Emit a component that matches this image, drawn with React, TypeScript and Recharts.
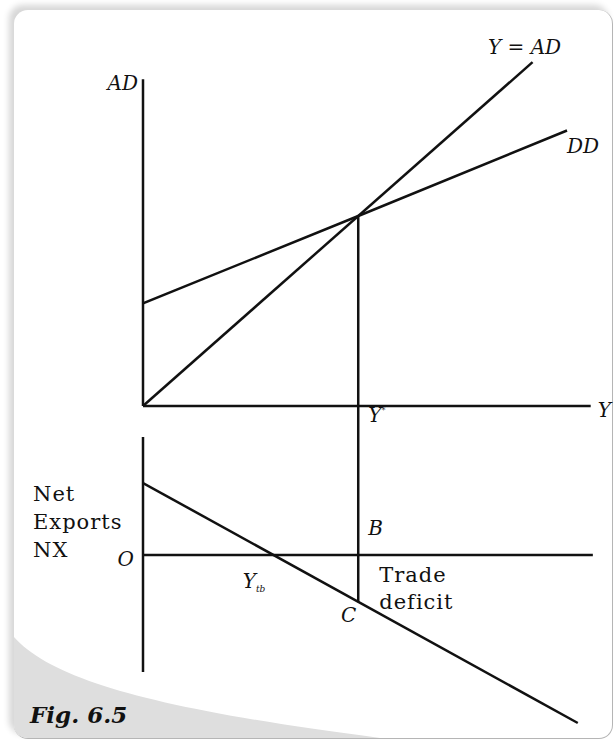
import React from 'react'
import { ComposedChart, Line, XAxis, YAxis, ReferenceLine, ReferenceDot } from 'recharts'

// Income Y on the shared horizontal axis (Y* = 100)
const Y_STAR = 100
const Y_TB = 60.3
const X_DOMAIN: [number, number] = [0, 210]

// Top panel (AD units): 45° line and domestic demand DD
const identityLine = [
  { x: 0, ad: 0 },
  { x: 181, ad: 181 },
]
const ddLine = [
  { x: 0, ad: 54 },
  { x: Y_STAR, ad: 100 },
  { x: 197, ad: 145 },
]
const AD_AXIS_TOP = 172
const Y_AXIS_END = 208
const AD_DOMAIN: [number, number] = [-170, 190]

// Bottom panel (NX units): net exports schedule
const nxLine = [
  { x: 0, nx: 36 },
  { x: 202, nx: -84 },
]
const NX_AXIS_TOP = 59
const NX_AXIS_BOTTOM = -58.5
const NX_AXIS_END = 209
const NX_AT_Y_STAR = -23.6
const NX_DOMAIN: [number, number] = [-87, 255]

// Drop line from the equilibrium down to point C (drawn in AD units)
const dropLine = [
  { x: Y_STAR, ad: 100 },
  { x: Y_STAR, ad: -103.3 },
]

const INK = '#111'
const STROKE = 2.5
const SERIF = '"DejaVu Serif", "Liberation Serif", serif'

// label renderer anchored on a reference dot, offset in pixels
const tag =
  (
    content: React.ReactNode,
    dx: number,
    dy: number,
    anchor: 'start' | 'middle' | 'end' = 'start',
    italic = true,
    size = 20
  ) =>
  (p: any) => {
    const vb = p?.viewBox ?? {}
    const cx = (vb.x ?? 0) + (vb.width ?? 0) / 2
    const cy = (vb.y ?? 0) + (vb.height ?? 0) / 2
    return (
      <text
        x={cx + dx}
        y={cy + dy}
        textAnchor={anchor}
        fontFamily={SERIF}
        fontStyle={italic ? 'italic' : 'normal'}
        fontSize={size}
        fill={INK}
      >
        {content}
      </text>
    )
  }

const stackTag =
  (lines: string[], dx: number, dy: number, lead: number, size = 21) =>
  (p: any) => {
    const vb = p?.viewBox ?? {}
    const cx = (vb.x ?? 0) + (vb.width ?? 0) / 2
    const cy = (vb.y ?? 0) + (vb.height ?? 0) / 2
    return (
      <text x={cx + dx} y={cy + dy} fontFamily={SERIF} fontSize={size} fill={INK} letterSpacing={1}>
        {lines.map((l, i) => (
          <tspan key={l} x={cx + dx} dy={i === 0 ? 0 : lead}>
            {l}
          </tspan>
        ))}
      </text>
    )
  }

const seg = { stroke: INK, strokeWidth: STROKE, ifOverflow: 'visible' as const }
const dotBase = { r: 0, fill: 'none', stroke: 'none', ifOverflow: 'visible' as const }

export default function App() {
  return (
    <div style={{ position: 'absolute', left: 0, top: 0, width: 616, height: 742, background: '#fff' }}>
      {/* card with shaded corner */}
      <div
        style={{
          position: 'absolute',
          left: 14,
          top: 10,
          width: 598,
          height: 728,
          borderRadius: 14,
          background: '#fff',
          borderRight: '1px solid #b5b5b5',
          borderBottom: '1px solid #b5b5b5',
          boxShadow: '-5px -5px 6px rgba(0,0,0,0.16)',
          overflow: 'hidden',
        }}
      >
        <svg width={598} height={728} style={{ position: 'absolute', left: 0, top: 0 }}>
          <path d="M0,627 C40,672 150,700 366,728 L0,728 Z" fill="#dedede" />
        </svg>
        <div
          style={{
            position: 'absolute',
            left: 16,
            top: 693,
            fontFamily: SERIF,
            fontWeight: 'bold',
            fontStyle: 'italic',
            fontSize: 23,
            lineHeight: '23px',
            color: '#111',
          }}
        >
          Fig. 6.5
        </div>
      </div>

      <div style={{ position: 'absolute', left: 0, top: 0 }}>
        <ComposedChart width={616} height={742} margin={{ top: 45, right: 21, bottom: 13, left: 143 }}>
          <XAxis type="number" dataKey="x" domain={X_DOMAIN} allowDataOverflow hide />
          <YAxis yAxisId="ad" type="number" domain={AD_DOMAIN} allowDataOverflow hide />
          <YAxis yAxisId="nx" type="number" domain={NX_DOMAIN} allowDataOverflow hide />

          {/* top panel axes */}
          <ReferenceLine yAxisId="ad" segment={[{ x: 0, y: 0 }, { x: 0, y: AD_AXIS_TOP }]} {...seg} />
          <ReferenceLine yAxisId="ad" segment={[{ x: 0, y: 0 }, { x: Y_AXIS_END, y: 0 }]} {...seg} />

          {/* bottom panel axes */}
          <ReferenceLine yAxisId="nx" segment={[{ x: 0, y: NX_AXIS_BOTTOM }, { x: 0, y: NX_AXIS_TOP }]} {...seg} />
          <ReferenceLine yAxisId="nx" segment={[{ x: 0, y: 0 }, { x: NX_AXIS_END, y: 0 }]} {...seg} />

          <Line data={identityLine} dataKey="ad" yAxisId="ad" type="linear" stroke={INK} strokeWidth={STROKE} dot={false} isAnimationActive={false} />
          <Line data={ddLine} dataKey="ad" yAxisId="ad" type="linear" stroke={INK} strokeWidth={STROKE} dot={false} isAnimationActive={false} />
          <Line data={dropLine} dataKey="ad" yAxisId="ad" type="linear" stroke={INK} strokeWidth={STROKE} dot={false} isAnimationActive={false} />
          <Line data={nxLine} dataKey="nx" yAxisId="nx" type="linear" stroke={INK} strokeWidth={STROKE} dot={false} isAnimationActive={false} />

          {/* top panel labels */}
          <ReferenceDot yAxisId="ad" x={0} y={AD_AXIS_TOP} {...dotBase} label={tag('AD', -5, 11, 'end')} />
          <ReferenceDot yAxisId="ad" x={identityLine[1].x} y={identityLine[1].ad} {...dotBase} label={tag('Y = AD', -8, -8, 'middle')} />
          <ReferenceDot yAxisId="ad" x={ddLine[2].x} y={ddLine[2].ad} {...dotBase} label={tag('DD', 0, 22)} />
          <ReferenceDot yAxisId="ad" x={Y_AXIS_END} y={0} {...dotBase} label={tag('Y', 7, 11)} />
          <ReferenceDot
            yAxisId="ad"
            x={Y_STAR}
            y={0}
            {...dotBase}
            label={tag(
              <>
                Y<tspan fontSize={8} dy={-9}>*</tspan>
              </>,
              10,
              16
            )}
          />

          {/* bottom panel labels */}
          <ReferenceDot yAxisId="nx" x={Y_STAR} y={0} {...dotBase} label={tag('B', 10, -20)} />
          <ReferenceDot yAxisId="nx" x={0} y={0} {...dotBase} label={tag('O', -9, 11, 'end')} />
          <ReferenceDot
            yAxisId="nx"
            x={Y_TB}
            y={0}
            {...dotBase}
            label={tag(
              <>
                Y<tspan fontSize={9} dy={4}>tb</tspan>
              </>,
              -30,
              33
            )}
          />
          <ReferenceDot yAxisId="nx" x={Y_STAR} y={0} {...dotBase} label={stackTag(['Trade', 'deficit'], 21, 27, 27)} />
          <ReferenceDot yAxisId="nx" x={Y_STAR} y={NX_AT_Y_STAR} {...dotBase} label={tag('C', -2, 20, 'end')} />
          <ReferenceDot yAxisId="nx" x={0} y={0} {...dotBase} label={stackTag(['Net', 'Exports', 'NX'], -110, -54, 28)} />
        </ComposedChart>
      </div>
    </div>
  )
}
